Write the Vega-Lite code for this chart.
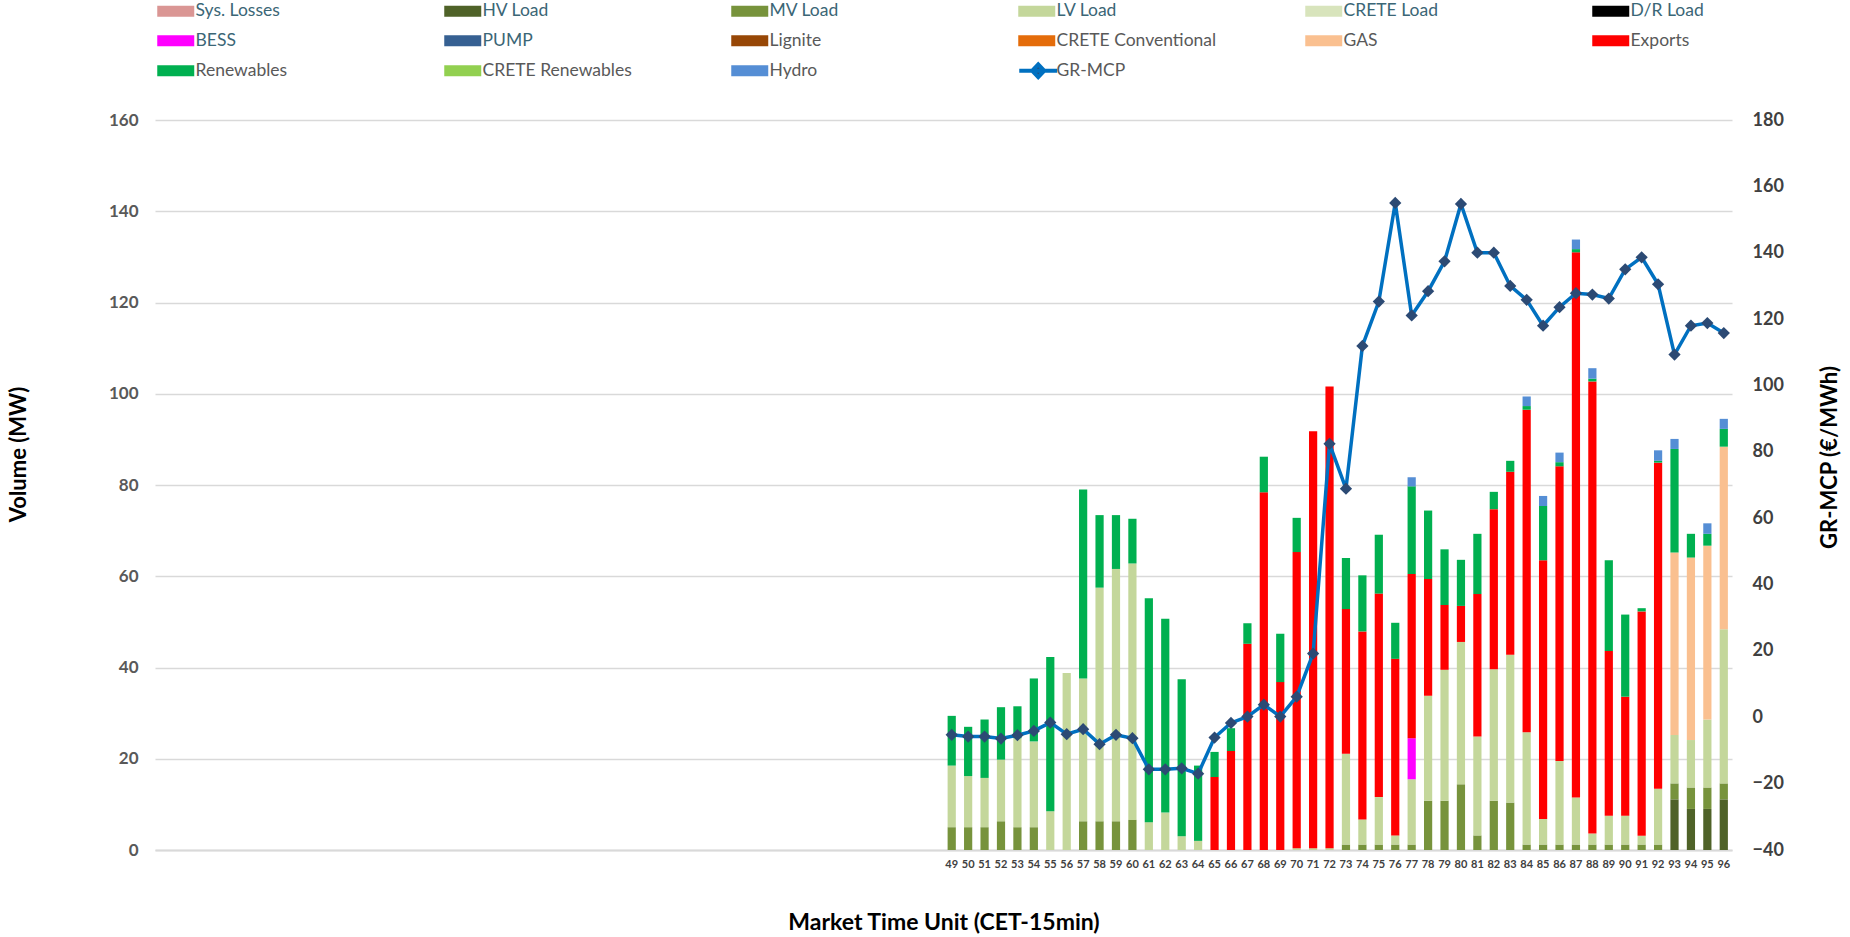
{
"$schema": "https://vega.github.io/schema/vega-lite/v6.json",
"autosize": {"type": "none"},
"width": 1577, "height": 730,
"padding": {"left": 155, "top": 120, "right": 118, "bottom": 87},
"background": "white",
"config": {"view": {"stroke": null}, "font": "Lato"},
"datasets": {
"stackorder": [
{"series":"Sys. Losses","k":1},{"series":"HV Load","k":2},{"series":"MV Load","k":3},{"series":"LV Load","k":4},{"series":"CRETE Load","k":5},{"series":"D/R Load","k":6},{"series":"BESS","k":7},{"series":"PUMP","k":8},{"series":"Lignite","k":9},{"series":"CRETE Conventional","k":10},{"series":"GAS","k":11},{"series":"Exports","k":12},{"series":"Renewables","k":13},{"series":"CRETE Renewables","k":14},{"series":"Hydro","k":15}
],
"bars": [
{"mtu":49,"series":"MV Load","mw":5.0},{"mtu":49,"series":"LV Load","mw":13.5},{"mtu":49,"series":"Renewables","mw":10.9},
{"mtu":50,"series":"MV Load","mw":5.0},{"mtu":50,"series":"LV Load","mw":11.2},{"mtu":50,"series":"Renewables","mw":10.8},
{"mtu":51,"series":"MV Load","mw":5.0},{"mtu":51,"series":"LV Load","mw":10.8},{"mtu":51,"series":"Renewables","mw":12.8},
{"mtu":52,"series":"MV Load","mw":6.3},{"mtu":52,"series":"LV Load","mw":13.5},{"mtu":52,"series":"Renewables","mw":11.5},
{"mtu":53,"series":"MV Load","mw":5.0},{"mtu":53,"series":"LV Load","mw":19.5},{"mtu":53,"series":"Renewables","mw":7.0},
{"mtu":54,"series":"MV Load","mw":5.0},{"mtu":54,"series":"LV Load","mw":18.8},{"mtu":54,"series":"Renewables","mw":13.8},
{"mtu":55,"series":"LV Load","mw":8.5},{"mtu":55,"series":"Renewables","mw":33.8},
{"mtu":56,"series":"LV Load","mw":38.8},
{"mtu":57,"series":"MV Load","mw":6.3},{"mtu":57,"series":"LV Load","mw":31.3},{"mtu":57,"series":"Renewables","mw":41.4},
{"mtu":58,"series":"MV Load","mw":6.3},{"mtu":58,"series":"LV Load","mw":51.2},{"mtu":58,"series":"Renewables","mw":15.9},
{"mtu":59,"series":"MV Load","mw":6.3},{"mtu":59,"series":"LV Load","mw":55.3},{"mtu":59,"series":"Renewables","mw":11.8},
{"mtu":60,"series":"MV Load","mw":6.6},{"mtu":60,"series":"LV Load","mw":56.2},{"mtu":60,"series":"Renewables","mw":9.8},
{"mtu":61,"series":"LV Load","mw":6.1},{"mtu":61,"series":"Renewables","mw":49.1},
{"mtu":62,"series":"LV Load","mw":8.2},{"mtu":62,"series":"Renewables","mw":42.5},
{"mtu":63,"series":"LV Load","mw":3.0},{"mtu":63,"series":"Renewables","mw":34.4},
{"mtu":64,"series":"LV Load","mw":2.0},{"mtu":64,"series":"Renewables","mw":16.5},
{"mtu":65,"series":"Exports","mw":16.0},{"mtu":65,"series":"Renewables","mw":5.5},
{"mtu":66,"series":"Exports","mw":21.7},{"mtu":66,"series":"Renewables","mw":5.0},
{"mtu":67,"series":"Exports","mw":45.2},{"mtu":67,"series":"Renewables","mw":4.5},
{"mtu":68,"series":"Exports","mw":78.4},{"mtu":68,"series":"Renewables","mw":7.8},
{"mtu":69,"series":"Exports","mw":36.8},{"mtu":69,"series":"Renewables","mw":10.6},
{"mtu":70,"series":"LV Load","mw":0.4},{"mtu":70,"series":"Exports","mw":64.9},{"mtu":70,"series":"Renewables","mw":7.5},
{"mtu":71,"series":"LV Load","mw":0.4},{"mtu":71,"series":"Exports","mw":91.4},
{"mtu":72,"series":"LV Load","mw":0.4},{"mtu":72,"series":"Exports","mw":101.2},
{"mtu":73,"series":"MV Load","mw":1.2},{"mtu":73,"series":"LV Load","mw":19.9},{"mtu":73,"series":"Exports","mw":31.7},{"mtu":73,"series":"Renewables","mw":11.2},
{"mtu":74,"series":"MV Load","mw":1.2},{"mtu":74,"series":"LV Load","mw":5.5},{"mtu":74,"series":"Exports","mw":41.2},{"mtu":74,"series":"Renewables","mw":12.3},
{"mtu":75,"series":"MV Load","mw":1.2},{"mtu":75,"series":"LV Load","mw":10.4},{"mtu":75,"series":"Exports","mw":44.6},{"mtu":75,"series":"Renewables","mw":12.9},
{"mtu":76,"series":"MV Load","mw":1.2},{"mtu":76,"series":"LV Load","mw":2.0},{"mtu":76,"series":"Exports","mw":38.7},{"mtu":76,"series":"Renewables","mw":7.9},
{"mtu":77,"series":"MV Load","mw":1.2},{"mtu":77,"series":"LV Load","mw":14.3},{"mtu":77,"series":"BESS","mw":9.0},{"mtu":77,"series":"Exports","mw":36.0},{"mtu":77,"series":"Renewables","mw":19.2},{"mtu":77,"series":"Hydro","mw":2.0},
{"mtu":78,"series":"MV Load","mw":10.8},{"mtu":78,"series":"LV Load","mw":23.0},{"mtu":78,"series":"Exports","mw":25.6},{"mtu":78,"series":"Renewables","mw":15.0},
{"mtu":79,"series":"MV Load","mw":10.8},{"mtu":79,"series":"LV Load","mw":28.7},{"mtu":79,"series":"Exports","mw":14.2},{"mtu":79,"series":"Renewables","mw":12.2},
{"mtu":80,"series":"MV Load","mw":14.4},{"mtu":80,"series":"LV Load","mw":31.2},{"mtu":80,"series":"Exports","mw":7.9},{"mtu":80,"series":"Renewables","mw":10.1},
{"mtu":81,"series":"MV Load","mw":3.2},{"mtu":81,"series":"LV Load","mw":21.7},{"mtu":81,"series":"Exports","mw":31.2},{"mtu":81,"series":"Renewables","mw":13.2},
{"mtu":82,"series":"MV Load","mw":10.8},{"mtu":82,"series":"LV Load","mw":28.8},{"mtu":82,"series":"Exports","mw":35.1},{"mtu":82,"series":"Renewables","mw":3.8},
{"mtu":83,"series":"MV Load","mw":10.4},{"mtu":83,"series":"LV Load","mw":32.4},{"mtu":83,"series":"Exports","mw":40.1},{"mtu":83,"series":"Renewables","mw":2.4},
{"mtu":84,"series":"MV Load","mw":1.2},{"mtu":84,"series":"LV Load","mw":24.6},{"mtu":84,"series":"Exports","mw":70.7},{"mtu":84,"series":"Renewables","mw":0.8},{"mtu":84,"series":"Hydro","mw":2.1},
{"mtu":85,"series":"MV Load","mw":1.2},{"mtu":85,"series":"LV Load","mw":5.6},{"mtu":85,"series":"Exports","mw":56.7},{"mtu":85,"series":"Renewables","mw":11.9},{"mtu":85,"series":"Hydro","mw":2.2},
{"mtu":86,"series":"MV Load","mw":1.2},{"mtu":86,"series":"LV Load","mw":18.3},{"mtu":86,"series":"Exports","mw":64.6},{"mtu":86,"series":"Renewables","mw":0.9},{"mtu":86,"series":"Hydro","mw":2.1},
{"mtu":87,"series":"MV Load","mw":1.2},{"mtu":87,"series":"LV Load","mw":10.3},{"mtu":87,"series":"Exports","mw":119.5},{"mtu":87,"series":"Renewables","mw":0.7},{"mtu":87,"series":"Hydro","mw":2.1},
{"mtu":88,"series":"MV Load","mw":1.2},{"mtu":88,"series":"LV Load","mw":2.4},{"mtu":88,"series":"Exports","mw":99.1},{"mtu":88,"series":"Renewables","mw":0.6},{"mtu":88,"series":"Hydro","mw":2.3},
{"mtu":89,"series":"MV Load","mw":1.2},{"mtu":89,"series":"LV Load","mw":6.3},{"mtu":89,"series":"Exports","mw":36.1},{"mtu":89,"series":"Renewables","mw":19.9},
{"mtu":90,"series":"MV Load","mw":1.2},{"mtu":90,"series":"LV Load","mw":6.3},{"mtu":90,"series":"Exports","mw":26.1},{"mtu":90,"series":"Renewables","mw":18.0},
{"mtu":91,"series":"MV Load","mw":1.2},{"mtu":91,"series":"LV Load","mw":1.9},{"mtu":91,"series":"Exports","mw":49.2},{"mtu":91,"series":"Renewables","mw":0.7},
{"mtu":92,"series":"MV Load","mw":1.2},{"mtu":92,"series":"LV Load","mw":12.2},{"mtu":92,"series":"Exports","mw":71.5},{"mtu":92,"series":"Renewables","mw":0.4},{"mtu":92,"series":"Hydro","mw":2.3},
{"mtu":93,"series":"HV Load","mw":11.1},{"mtu":93,"series":"MV Load","mw":3.5},{"mtu":93,"series":"LV Load","mw":10.6},{"mtu":93,"series":"GAS","mw":40.0},{"mtu":93,"series":"Renewables","mw":22.7},{"mtu":93,"series":"Hydro","mw":2.2},
{"mtu":94,"series":"HV Load","mw":9.0},{"mtu":94,"series":"MV Load","mw":4.7},{"mtu":94,"series":"LV Load","mw":10.4},{"mtu":94,"series":"GAS","mw":40.0},{"mtu":94,"series":"Renewables","mw":5.2},
{"mtu":95,"series":"HV Load","mw":9.0},{"mtu":95,"series":"MV Load","mw":4.7},{"mtu":95,"series":"LV Load","mw":14.9},{"mtu":95,"series":"GAS","mw":38.1},{"mtu":95,"series":"Renewables","mw":2.6},{"mtu":95,"series":"Hydro","mw":2.3},
{"mtu":96,"series":"HV Load","mw":11.1},{"mtu":96,"series":"MV Load","mw":3.5},{"mtu":96,"series":"LV Load","mw":33.8},{"mtu":96,"series":"GAS","mw":40.0},{"mtu":96,"series":"Renewables","mw":3.9},{"mtu":96,"series":"Hydro","mw":2.2}
],
"price": [
{"mtu":49,"price":-5.3},{"mtu":50,"price":-5.8},{"mtu":51,"price":-5.8},{"mtu":52,"price":-6.4},{"mtu":53,"price":-5.4},{"mtu":54,"price":-4.1},{"mtu":55,"price":-1.6},{"mtu":56,"price":-5.1},{"mtu":57,"price":-3.6},{"mtu":58,"price":-8.1},{"mtu":59,"price":-5.3},{"mtu":60,"price":-6.3},{"mtu":61,"price":-15.7},{"mtu":62,"price":-15.7},{"mtu":63,"price":-15.4},{"mtu":64,"price":-17.0},{"mtu":65,"price":-6.1},{"mtu":66,"price":-1.7},{"mtu":67,"price":0.2},{"mtu":68,"price":3.8},{"mtu":69,"price":0.2},{"mtu":70,"price":6.2},{"mtu":71,"price":19.2},{"mtu":72,"price":82.4},{"mtu":73,"price":68.9},{"mtu":74,"price":111.9},{"mtu":75,"price":125.3},{"mtu":76,"price":155.0},{"mtu":77,"price":121.1},{"mtu":78,"price":128.4},{"mtu":79,"price":137.4},{"mtu":80,"price":154.7},{"mtu":81,"price":140.0},{"mtu":82,"price":140.0},{"mtu":83,"price":130.0},{"mtu":84,"price":125.8},{"mtu":85,"price":118.0},{"mtu":86,"price":123.6},{"mtu":87,"price":127.8},{"mtu":88,"price":127.4},{"mtu":89,"price":126.2},{"mtu":90,"price":135.0},{"mtu":91,"price":138.6},{"mtu":92,"price":130.5},{"mtu":93,"price":109.3},{"mtu":94,"price":118.0},{"mtu":95,"price":118.8},{"mtu":96,"price":115.8}
]
},
"encoding": {
"x": {"field": "mtu", "type": "ordinal",
 "scale": {"domain": [1,2,3,4,5,6,7,8,9,10,11,12,13,14,15,16,17,18,19,20,21,22,23,24,25,26,27,28,29,30,31,32,33,34,35,36,37,38,39,40,41,42,43,44,45,46,47,48,49,50,51,52,53,54,55,56,57,58,59,60,61,62,63,64,65,66,67,68,69,70,71,72,73,74,75,76,77,78,79,80,81,82,83,84,85,86,87,88,89,90,91,92,93,94,95,96], "paddingInner": 0.5, "paddingOuter": 0.25},
 "axis": {"title": "Market Time Unit (CET-15min)", "labelExpr": "datum.value >= 49 ? datum.label : ''", "labelAngle": 0, "labelFontSize": 11, "labelFontWeight": "bold", "labelColor": "#404040", "labelPadding": 8, "labelOverlap": false, "labelBound": false, "ticks": false, "domainColor": "#D9D9D9", "domainWidth": 2, "titleFontSize": 23, "titleFontWeight": "bold", "titleColor": "#000000", "titleY": 72, "titleBaseline": "middle"}}
},
"layer": [
{
 "data": {"name": "bars"},
 "transform": [{"lookup": "series", "from": {"data": {"name": "stackorder"}, "key": "series", "fields": ["k"]}}],
 "mark": {"type": "bar"},
 "encoding": {
  "y": {"field": "mw", "type": "quantitative", "stack": "zero", "scale": {"domain": [0, 160], "nice": false},
   "axis": {"title": "Volume (MW)", "values": [0,20,40,60,80,100,120,140,160], "grid": true, "gridColor": "#D9D9D9", "gridWidth": 1.5, "domain": false, "ticks": false, "labelFontSize": 17, "labelFontWeight": "bold", "labelColor": "#595959", "labelPadding": 17, "titleFontSize": 22, "titleFontWeight": "bold", "titleColor": "#000000", "titleX": -137, "titleY": 334, "titleBaseline": "middle", "titleAlign": "center"}},
  "color": {"field": "series", "type": "nominal",
   "scale": {"domain": ["Sys. Losses","HV Load","MV Load","LV Load","CRETE Load","D/R Load","BESS","PUMP","Lignite","CRETE Conventional","GAS","Exports","Renewables","CRETE Renewables","Hydro"],
    "range": ["#DA9694","#4F6228","#77933C","#C4D79B","#D8E4BC","#000000","#FF00FF","#366092","#974706","#E46C0A","#FAC090","#FF0000","#00B050","#92D050","#558ED5"]},
   "legend": {"orient": "none", "legendX": -1, "legendY": -118, "direction": "horizontal", "columns": 6, "gridAlign": "all", "title": null, "symbolType": "M-1,-1H5.727V1H-1Z", "symbolSize": 121, "symbolStrokeWidth": 0, "symbolOpacity": 1, "labelFontSize": 17.5, "labelColor": {"expr": "datum.index < 8 ? '#3B6676' : '#595959'"}, "labelOffset": 24, "columnPadding": 85, "rowPadding": 11, "padding": 0, "labelLimit": 400}},
  "order": {"field": "k", "type": "quantitative"}
 }
},
{
 "data": {"name": "price"},
 "mark": {"type": "line", "strokeWidth": 3.5, "point": {"shape": "diamond", "size": 150, "filled": true, "fill": "#2C4A74", "strokeWidth": 0}},
 "encoding": {
  "y": {"field": "price", "type": "quantitative", "scale": {"domain": [-40, 180], "nice": false},
   "axis": {"orient": "right", "title": "GR-MCP (€/MWh)", "values": [-40,-20,0,20,40,60,80,100,120,140,160,180], "grid": false, "domain": false, "ticks": false, "labelFontSize": 18, "labelFontWeight": "bold", "labelColor": "#404040", "labelPadding": 20, "titleFontSize": 22, "titleFontWeight": "bold", "titleColor": "#000000", "titleAngle": 270, "titleX": 97, "titleY": 337, "titleBaseline": "middle", "titleAlign": "center"}},
  "stroke": {"datum": "GR-MCP", "scale": {"domain": ["GR-MCP"], "range": ["#0070C0"]},
   "legend": {"orient": "none", "legendX": 861, "legendY": -58, "title": null, "symbolType": "M-1,0H5.9M2.45,-1.15L3.55,0L2.45,1.15L1.35,0Z", "symbolSize": 121, "symbolStrokeWidth": 4, "symbolFillColor": "#2C4A74", "labelFontSize": 17.5, "labelColor": "#595959", "labelOffset": 23, "padding": 0}}
 }
}
],
"resolve": {"scale": {"y": "independent"}}
}
